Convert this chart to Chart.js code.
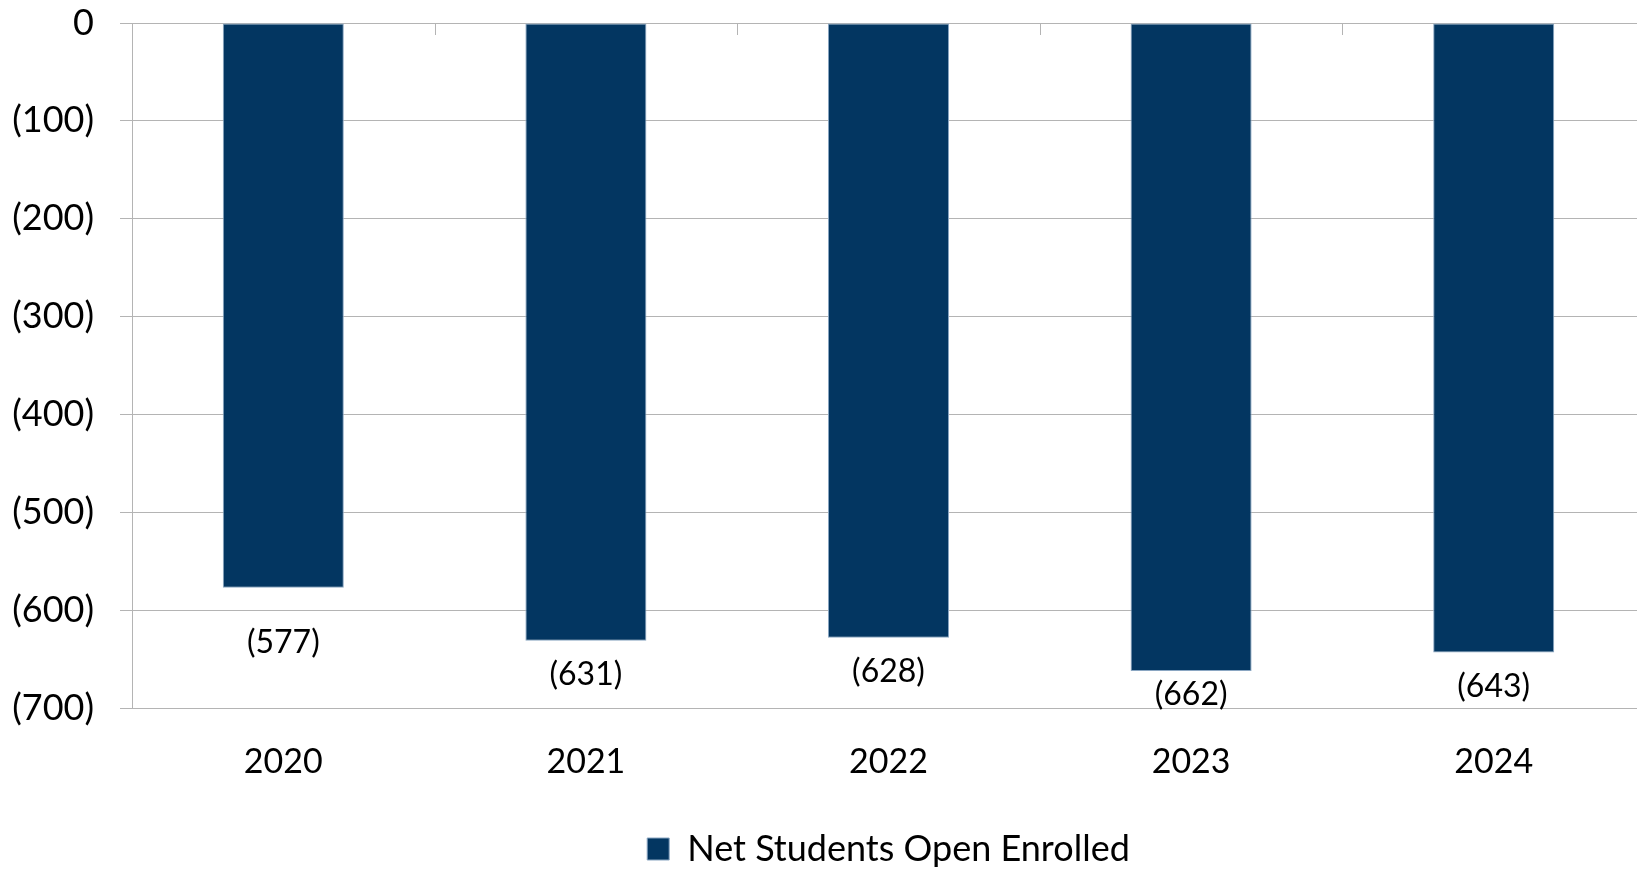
<!DOCTYPE html>
<html>
<head>
<meta charset="utf-8">
<script src="https://cdn.jsdelivr.net/npm/chart.js@4.4.1/dist/chart.umd.min.js"></script>
<style>
  html, body { margin: 0; padding: 0; background: #fff; overflow: hidden; }
  #wrap { position: relative; width: 1652px; height: 877px; }
</style>
</head>
<body>
<div id="wrap"><canvas id="enroll-chart"></canvas></div>
<script>
const years = ["2020", "2021", "2022", "2023", "2024"];
const netOpenEnrolled = [-577, -631, -628, -662, -643];
const yTicks = [0, -100, -200, -300, -400, -500, -600, -700];
const seriesName = "Net Students Open Enrolled";

// label distance below each bar end (px), as placed in the original
const labelOffsets = [55, 34, 34, 24, 34];

const BAR_COLOR = "#033661";
const GRID_COLOR = "#b4b4b4";
const FONT = "Lato, 'Open Sans', sans-serif";

function fmt(v) {
  return v === 0 ? "0" : "(" + Math.abs(v) + ")";
}

const barLabels = {
  id: "barLabels",
  afterDatasetsDraw(chart) {
    const ctx = chart.ctx;
    const meta = chart.getDatasetMeta(0);
    ctx.save();
    ctx.font = "32px " + FONT;
    ctx.fillStyle = "#000";
    ctx.textAlign = "center";
    ctx.textBaseline = "middle";
    meta.data.forEach((bar, i) => {
      ctx.fillText(fmt(netOpenEnrolled[i]), bar.x, bar.y + labelOffsets[i]);
    });
    ctx.restore();
  },
};

// short category tick marks hanging from the zero line
const topTicks = {
  id: "topTicks",
  afterDraw(chart) {
    const x = chart.scales.x;
    const y0 = chart.scales.y.getPixelForValue(0);
    const ctx = chart.ctx;
    const half = (x.getPixelForValue(1) - x.getPixelForValue(0)) / 2;
    ctx.save();
    ctx.strokeStyle = GRID_COLOR;
    ctx.lineWidth = 1;
    ctx.beginPath();
    for (let i = 1; i <= years.length; i++) {
      const px = Math.round(x.getPixelForValue(i) - half) + 0.5;
      ctx.moveTo(px, y0);
      ctx.lineTo(px, y0 + 12);
    }
    ctx.stroke();
    ctx.restore();
  },
};

new Chart(document.getElementById("enroll-chart"), {
  type: "bar",
  data: {
    labels: years,
    datasets: [
      {
        label: seriesName,
        data: netOpenEnrolled,
        backgroundColor: BAR_COLOR,
        borderColor: "#8aa6c2",
        borderWidth: 1,
        borderSkipped: false,
        barPercentage: 0.4,
        categoryPercentage: 1,
      },
    ],
  },
  options: {
    responsive: true,
    maintainAspectRatio: false,
    animation: false,
    layout: { padding: { top: 23, right: 7, bottom: 0, left: 0 } },
    plugins: {
      tooltip: { enabled: false },
      legend: {
        position: "bottom",
        fullSize: false,
        labels: {
          font: { family: FONT, size: 36 },
          color: "#000",
          boxWidth: 22,
          boxHeight: 22,
          padding: 4,
        },
      },
    },
    scales: {
      x: {
        afterFit(scale) { scale.height += 20; },
        grid: { display: false },
        border: { display: false },
        ticks: {
          font: { family: FONT, size: 34 },
          color: "#000",
          padding: 25,
        },
      },
      y: {
        min: -700,
        max: 0,
        afterFit(scale) {
          scale.width = 132;
          scale.paddingTop = 0;
          scale.paddingBottom = 0;
        },
        afterBuildTicks(scale) {
          scale.ticks = yTicks.map((v) => ({ value: v }));
        },
        grid: { color: GRID_COLOR, tickLength: 12 },
        border: { display: true, color: GRID_COLOR },
        ticks: {
          font: { family: FONT, size: 36 },
          color: "#000",
          padding: 26,
          callback: (v) => fmt(v),
        },
      },
    },
  },
  plugins: [barLabels, topTicks],
});
</script>
</body>
</html>
